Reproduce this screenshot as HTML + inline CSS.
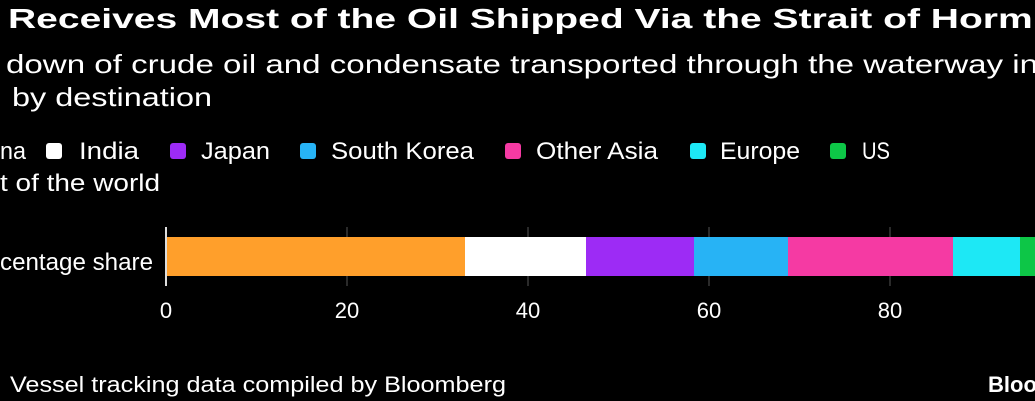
<!DOCTYPE html>
<html><head><meta charset="utf-8"><style>
html,body{margin:0;padding:0;background:#000;width:1035px;height:401px;overflow:hidden}
svg{display:block}
text{font-family:"Liberation Sans",sans-serif;fill:#fff}
</style></head><body>
<svg width="1035" height="401" viewBox="0 0 1035 401">
<text x="8" y="28" font-size="28" font-weight="bold" textLength="1068" lengthAdjust="spacingAndGlyphs">Receives Most of the Oil Shipped Via the Strait of Hormuz</text>
<text x="6" y="73" font-size="26" textLength="1032" lengthAdjust="spacingAndGlyphs">down of crude oil and condensate transported through the waterway in</text>
<text x="12" y="106" font-size="26" textLength="200" lengthAdjust="spacingAndGlyphs">by destination</text>
<g font-size="24">
<text x="0" y="159" textLength="26" lengthAdjust="spacingAndGlyphs">na</text>
<rect x="46" y="143" width="16" height="16" rx="3" fill="#fff"/>
<text x="79" y="159" textLength="60" lengthAdjust="spacingAndGlyphs">India</text>
<rect x="170" y="143" width="16" height="16" rx="3" fill="#9d2bf5"/>
<text x="201" y="159" textLength="69" lengthAdjust="spacingAndGlyphs">Japan</text>
<rect x="300" y="143" width="16" height="16" rx="3" fill="#27b3f5"/>
<text x="331" y="159" textLength="143" lengthAdjust="spacingAndGlyphs">South Korea</text>
<rect x="505" y="143" width="16" height="16" rx="3" fill="#f53aa3"/>
<text x="536" y="159" textLength="122" lengthAdjust="spacingAndGlyphs">Other Asia</text>
<rect x="690" y="143" width="16" height="16" rx="3" fill="#1de8f5"/>
<text x="720" y="159" textLength="80" lengthAdjust="spacingAndGlyphs">Europe</text>
<rect x="830" y="143" width="16" height="16" rx="3" fill="#0dc647"/>
<text x="862" y="159" textLength="28" lengthAdjust="spacingAndGlyphs">US</text>
<text x="0" y="191" textLength="160" lengthAdjust="spacingAndGlyphs">t of the world</text>
<text x="153" y="270" text-anchor="end" textLength="153" lengthAdjust="spacingAndGlyphs">centage share</text>
</g>
<g stroke="#555" stroke-width="1">
<line x1="347" y1="227" x2="347" y2="286"/><line x1="528" y1="227" x2="528" y2="286"/>
<line x1="709" y1="227" x2="709" y2="286"/><line x1="890" y1="227" x2="890" y2="286"/>
</g>
<rect x="166" y="237" width="299" height="39" fill="#ff9f2b"/>
<rect x="465" y="237" width="121" height="39" fill="#fff"/>
<rect x="586" y="237" width="108" height="39" fill="#9d2bf5"/>
<rect x="694" y="237" width="94" height="39" fill="#27b3f5"/>
<rect x="788" y="237" width="165" height="39" fill="#f53aa3"/>
<rect x="953" y="237" width="67" height="39" fill="#1de8f5"/>
<rect x="1020" y="237" width="15" height="39" fill="#0dc647"/>
<line x1="166" y1="227" x2="166" y2="286" stroke="#ddd" stroke-width="2"/>
<g font-size="22" text-anchor="middle">
<text x="166" y="318">0</text><text x="347" y="318">20</text><text x="528" y="318">40</text><text x="709" y="318">60</text><text x="890" y="318">80</text>
</g>
<text x="10" y="392" font-size="22" textLength="496" lengthAdjust="spacingAndGlyphs">Vessel tracking data compiled by Bloomberg</text>
<text x="988" y="392" font-size="22" font-weight="bold">Bloomberg</text>
</svg>
</body></html>
